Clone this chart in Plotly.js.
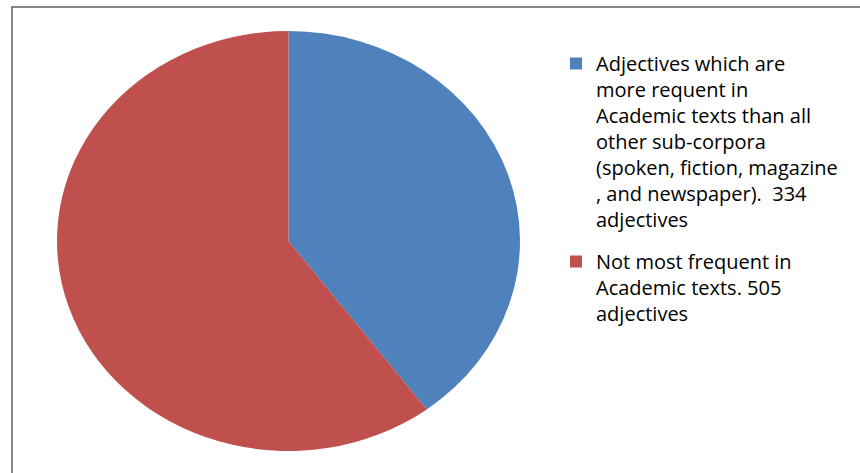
<!DOCTYPE html>
<html>
<head>
<meta charset="utf-8">
<script src="https://cdn.plot.ly/plotly-3.0.1.min.js"></script>
<style>
html,body{margin:0;padding:0;background:#fff;}
#chart{width:860px;height:473px;}
</style>
</head>
<body>
<div id="chart"></div>
<script>
const categories = [
  "Adjectives which are<br>more requent in<br>Academic texts than all<br>other sub-corpora<br>(spoken, fiction, magazine<br>, and newspaper).  334<br>adjectives",
  "Not most frequent in<br>Academic texts. 505<br>adjectives"
];
const values = [334, 505];
const colors = ["#4F81BD", "#C0504D"];

const W = 860, H = 473;
const cx = 288.5, cy = 241, ry = 210, rx = 231.5;
const extraItemGap = 13;

const trace = {
  type: "pie",
  labels: categories,
  values: values,
  sort: false,
  direction: "clockwise",
  rotation: 0,
  textinfo: "none",
  hoverinfo: "skip",
  marker: {colors: colors, line: {width: 0}},
  domain: {
    x: [(cx - ry) / W, (cx + ry) / W],
    y: [(H - cy - ry) / H, (H - cy + ry) / H]
  }
};

const layout = {
  width: W, height: H,
  margin: {l: 0, r: 0, t: 0, b: 0},
  paper_bgcolor: "#ffffff",
  showlegend: true,
  legend: {
    x: 556 / W, xanchor: "left",
    y: 1 - 44 / H, yanchor: "top",
    valign: "top",
    font: {family: "'Open Sans', Lato, sans-serif", size: 20, color: "#000000"},
    bgcolor: "rgba(0,0,0,0)"
  },
  shapes: [
    {type: "line", xref: "paper", yref: "paper", x0: 12 / W, x1: 1, y0: 1 - 7 / H, y1: 1 - 7 / H, line: {color: "#878787", width: 2}},
    {type: "line", xref: "paper", yref: "paper", x0: 12 / W, x1: 12 / W, y0: 0, y1: 1 - 6 / H, line: {color: "#878787", width: 2}}
  ]
};

Plotly.newPlot("chart", [trace], layout, {displayModeBar: false, staticPlot: true}).then(function (gd) {
  const pl = gd.querySelector(".pielayer");
  if (pl) {
    pl.style.transformOrigin = cx + "px " + cy + "px";
    pl.style.transform = "scaleX(" + (rx / ry) + ")";
  }
  const sb = gd.querySelector(".legend .scrollbox");
  if (sb) sb.removeAttribute("clip-path");
  const items = gd.querySelectorAll(".legend .traces");
  if (items.length > 1) {
    const t = items[1].getAttribute("transform") || "";
    items[1].setAttribute("transform", t + " translate(0," + extraItemGap + ")");
  }
});
</script>
</body>
</html>
